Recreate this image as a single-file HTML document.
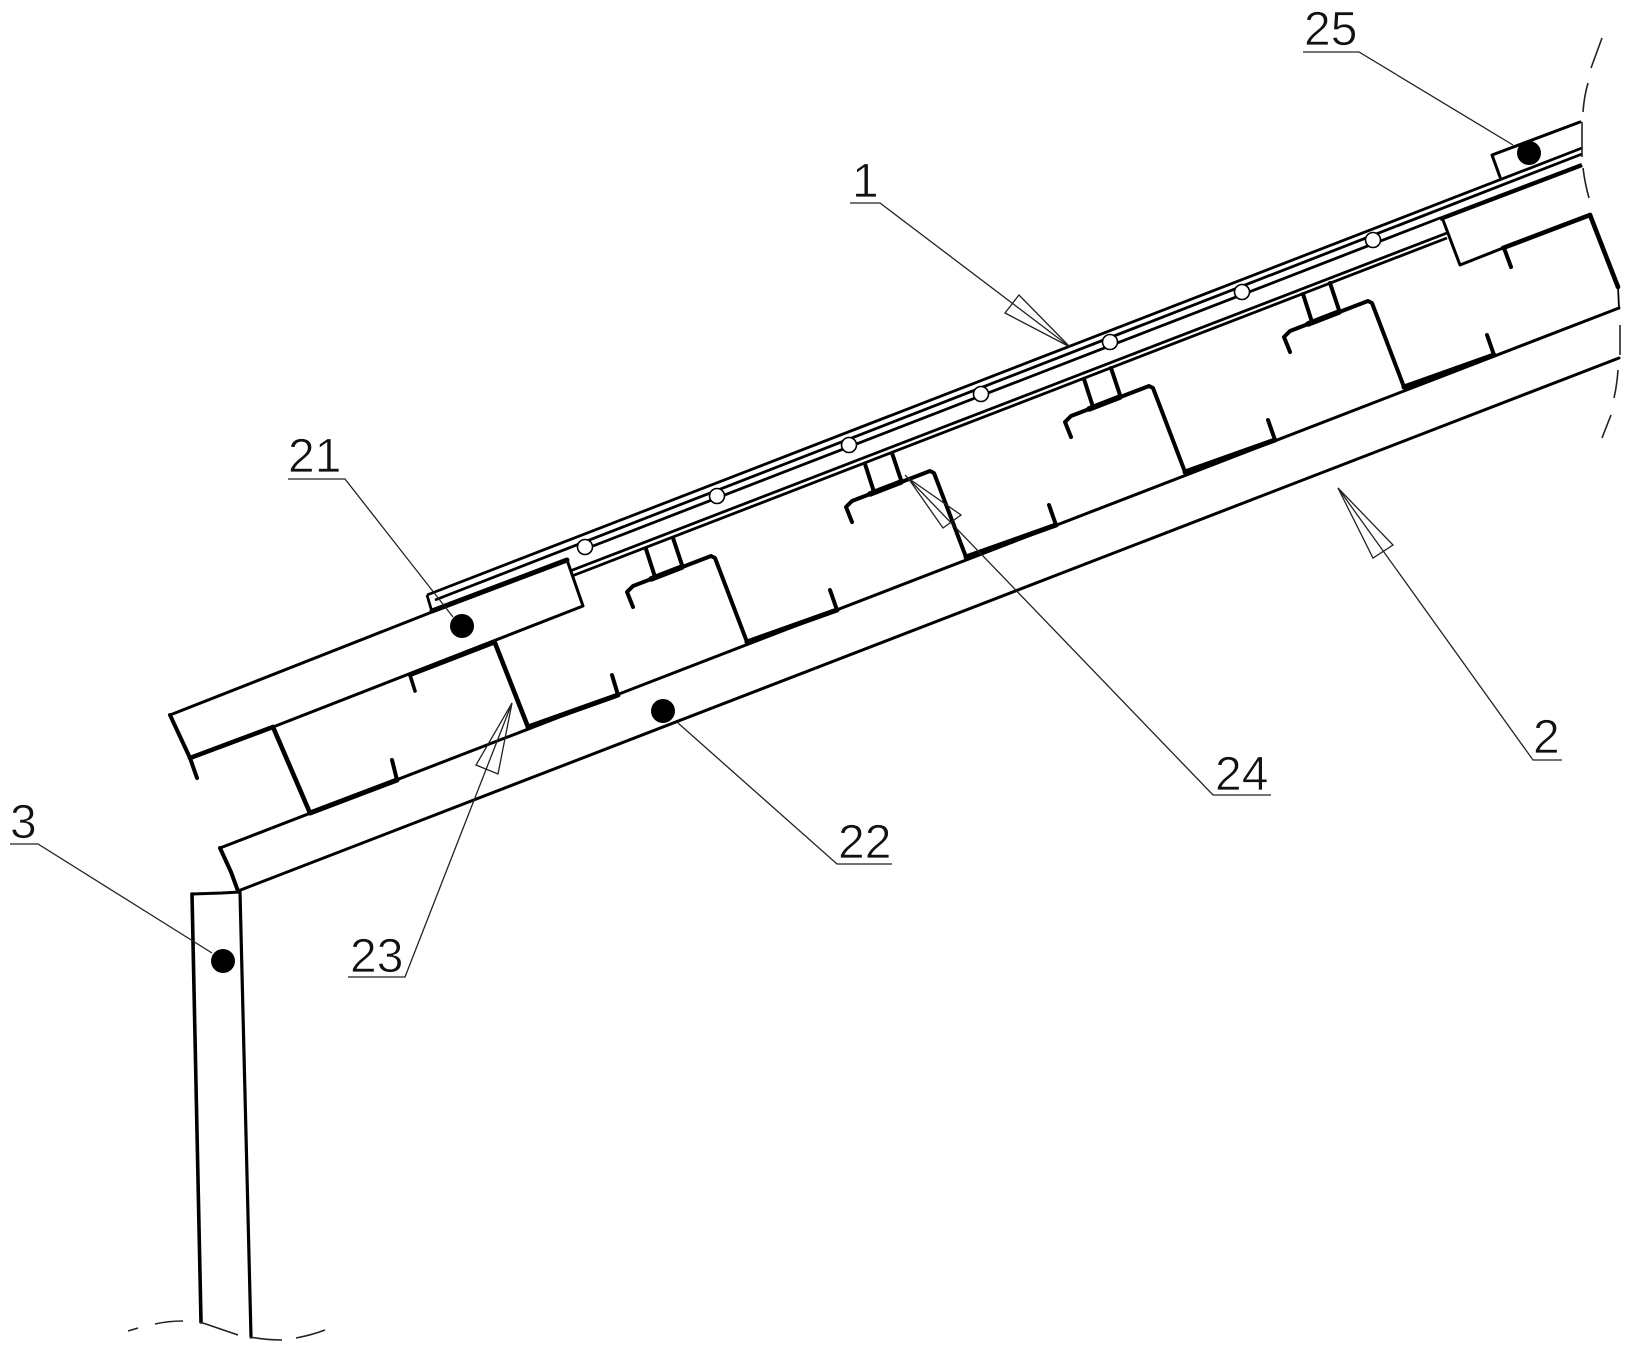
<!DOCTYPE html>
<html><head><meta charset="utf-8"><style>
html,body{margin:0;padding:0;background:#fff}
svg{display:block}
text{font-family:"Liberation Sans",sans-serif;font-size:48px;fill:#111;stroke:#fff;stroke-width:.8px}
</style></head><body>
<svg width="1632" height="1348" viewBox="0 0 1632 1348" xmlns="http://www.w3.org/2000/svg">
<rect width="1632" height="1348" fill="#fff"/>
<defs>
<g id="b" fill="none" stroke="#000" stroke-linecap="round" stroke-linejoin="round">
<path d="M-78,50 L-84,35 L-78,29 L0,-1 L4,1 L36,85" stroke-width="4"/>
<path d="M-65,-8 L-56,20 M-38,-19 L-29,8" stroke-width="4"/>
<path d="M-60,22 L-29,10" stroke-width="5.5"/>
<path d="M36,85 L126,53" stroke-width="5"/>
<path d="M126,53 L119,33" stroke-width="4"/>
</g>
</defs>
<!-- rails -->
<g fill="none" stroke="#000" stroke-width="2.8">
<path d="M427,595 L1582,148"/>
<path d="M435,600 L1582,154"/>
<path d="M427,595 L432,612"/>
<path d="M593,546 L1440,218"/>
<path d="M570,571 L1447,233"/>
<path d="M572,576 L1447,238"/>
</g>
<path d="M1440,219 L1582,165" fill="none" stroke="#000" stroke-width="4.4"/>
<!-- holes -->
<g fill="#fff" stroke="#000" stroke-width="1.6">
<circle cx="585" cy="547" r="7.5"/><circle cx="717" cy="496" r="7.5"/><circle cx="849" cy="445" r="7.5"/><circle cx="981" cy="394" r="7.5"/><circle cx="1110" cy="342" r="7.5"/><circle cx="1242" cy="292" r="7.5"/><circle cx="1373" cy="240" r="7.5"/>
</g>
<!-- blocks -->
<use href="#b" x="711" y="557"/><use href="#b" x="930" y="472"/><use href="#b" x="1149" y="387"/>
<use href="#b" x="1368" y="302"/>
<!-- long lines -->
<g fill="none" stroke="#000" stroke-width="3" stroke-linejoin="round" stroke-linecap="round">
<path d="M220,848 L1619,308"/>
<path d="M238,891 L1619,358"/>
<path d="M220,848 L231,872 L238,891" stroke-width="4"/>
<!-- 21 block -->
<path d="M170,715 L432,612"/>
<path d="M432,611 L567,560" stroke-width="5"/>
<path d="M567,560 L583,606 L273,727"/>
<path d="M493,643 L410,675" stroke-width="4.4"/>
<path d="M273,727 L190,758" stroke-width="4.6"/>
<path d="M170,715 L190,758 L197,778" stroke-width="4"/>
<path d="M273,727 L310,813" stroke-width="4.6"/>
<path d="M410,675 L415,691" stroke-width="3.6"/>
<path d="M310,813 L397,780" stroke-width="5"/>
<path d="M397,780 L392,760" stroke-width="4"/>
<path d="M495,643 L528,727" stroke-width="4.6"/>
<path d="M528,727 L618,695" stroke-width="5"/>
<path d="M618,695 L612,675" stroke-width="4"/>
<!-- right block -->
<path d="M1443,220 L1460,265 L1503,248"/>
<path d="M1503,248 L1590,215" stroke-width="4.6"/>
<path d="M1504,248 L1511,267" stroke-width="4"/>
<path d="M1590,215 L1618,287" stroke-width="4.6"/>
<path d="M1618,287 L1619,308" stroke-width="1.8"/>
<!-- 25 box -->
<path d="M1500,177 L1492,155 L1580,122"/>
<!-- column -->
<path d="M192,894 L222,893 L240,892"/>
<path d="M192,894 L201,1322" stroke-width="3.6"/>
<path d="M240,892 L251,1337" stroke-width="3.2"/>
</g>
<!-- break lines -->
<g fill="none" stroke="#222" stroke-width="1.6">
<path d="M1602,38 L1591,68 M1588,83 Q1584,97 1583,112 M1582,122 L1582,157 M1583,168 Q1585,184 1589,198 M1620,325 L1620,355 M1618,370 Q1617,385 1614,398 M1611,415 L1602,438"/>
<path d="M128,1331 L138,1328 M155,1324 Q168,1321 183,1321 M200,1322 L238,1335 M250,1337 Q266,1340 282,1340 M296,1338 Q312,1335 325,1330"/>
</g>
<!-- dots -->
<g fill="#000">
<circle cx="1529" cy="153" r="12"/><circle cx="462" cy="626" r="12"/><circle cx="663" cy="711" r="12"/><circle cx="223" cy="961" r="12"/>
</g>
<!-- leaders -->
<g fill="none" stroke="#222" stroke-width="1.3">
<path d="M1303,52 L1359,52 L1513,145"/>
<path d="M288,479 L345,479 L453,617"/>
<path d="M10,844 L38,844 L212,953"/>
<path d="M348,977 L405,977 L512,703"/>
<path d="M892,864 L837,864 L678,723"/>
<path d="M1271,795 L1213,795 L905,475"/>
<path d="M850,203 L880,203 L1070,347"/>
<path d="M1562,760 L1533,760 L1338,488"/>
<path d="M512,703 L476,765 L498,774 Z"/>
<path d="M908,478 L943,528 L961,515 Z"/>
<path d="M1070,347 L1005,313 L1019,295 Z"/>
<path d="M1338,488 L1373,558 L1393,545 Z"/>
</g>
<!-- labels -->
<text x="1304" y="45">25</text>
<text x="288" y="472">21</text>
<text x="10" y="838">3</text>
<text x="350" y="972">23</text>
<text x="838" y="858">22</text>
<text x="1215" y="790">24</text>
<text x="852" y="197">1</text>
<text x="1533" y="753">2</text>
</svg>
</body></html>
